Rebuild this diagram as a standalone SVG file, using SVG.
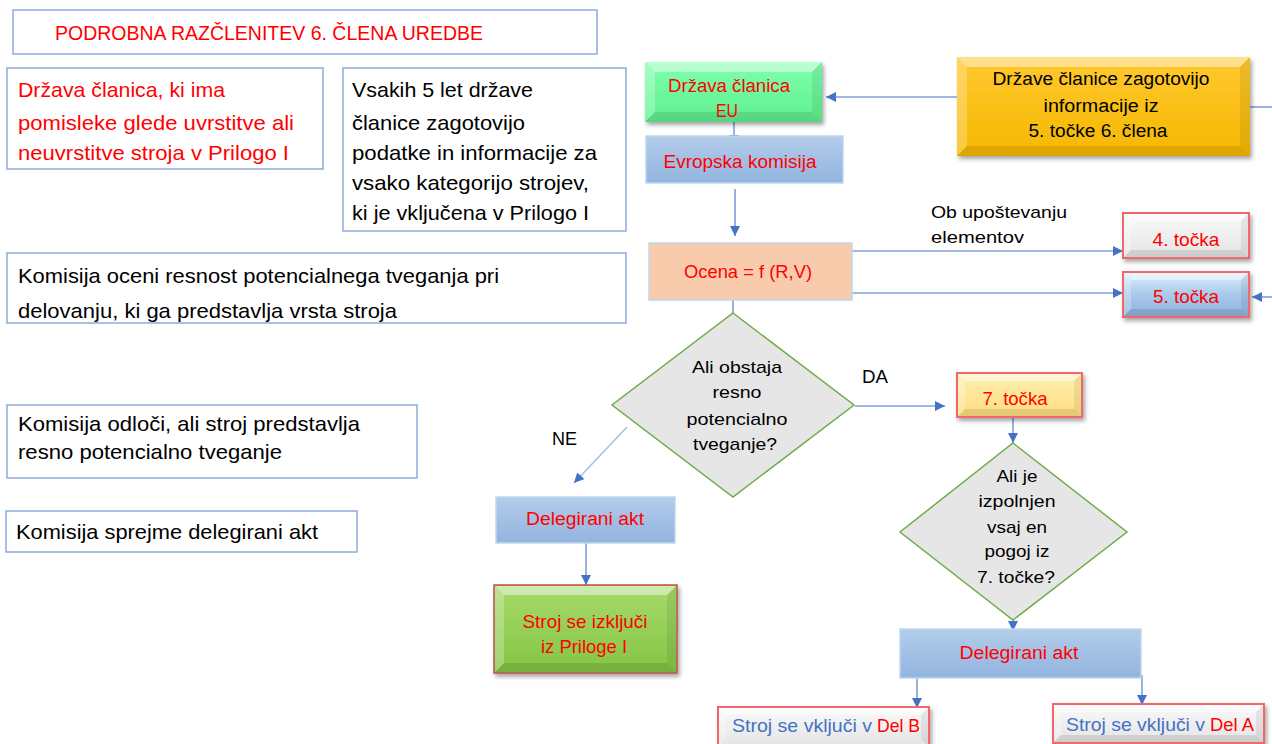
<svg xmlns="http://www.w3.org/2000/svg" width="1272" height="744" viewBox="0 0 1272 744">
<style>
text{font-family:"Liberation Sans",Arial,sans-serif;}
.side{fill:#fff;stroke:#8FAADC;stroke-width:1.5;}
.r{fill:#FF0000;}
.k{fill:#000;}
.b{fill:#4472C4;}
.t21{font-size:21px;}
.t19{font-size:19px;}
.t18{font-size:18px;}
.t17{font-size:17px;}
.bt{fill:#fff;opacity:.45;}
.bl{fill:#fff;opacity:.25;}
.bb{fill:#000;opacity:.10;}
.br{fill:#000;opacity:.07;}
.con{stroke:#4472C4;stroke-width:1.1;fill:none;}
.blueBox{fill:url(#gBlue);stroke:#BDD7EE;stroke-width:1.5;}
.dia{fill:#E7E6E6;stroke:#70AD47;stroke-width:1.5;}
.redEdge{stroke:#F0686C;stroke-width:2;}
</style>
<defs>
<linearGradient id="gBlue" x1="0" y1="0" x2="0" y2="1"><stop offset="0" stop-color="#B3CCEA"/><stop offset="1" stop-color="#92B4DF"/></linearGradient>
<linearGradient id="gGreen" x1="0" y1="0" x2="0" y2="1"><stop offset="0" stop-color="#80FFAE"/><stop offset="1" stop-color="#5EF08E"/></linearGradient>
<linearGradient id="gYel" x1="0" y1="0" x2="0" y2="1"><stop offset="0" stop-color="#FFC830"/><stop offset="1" stop-color="#F5B800"/></linearGradient>
<linearGradient id="gWhite" x1="0" y1="0" x2="0" y2="1"><stop offset="0" stop-color="#FAFAFA"/><stop offset="1" stop-color="#E4E4E4"/></linearGradient>
<linearGradient id="gSky" x1="0" y1="0" x2="0" y2="1"><stop offset="0" stop-color="#DDEEFC"/><stop offset="0.5" stop-color="#A9C9EC"/><stop offset="1" stop-color="#8DB2DD"/></linearGradient>
<linearGradient id="gLY" x1="0" y1="0" x2="0" y2="1"><stop offset="0" stop-color="#FFF0B0"/><stop offset="1" stop-color="#FFDD80"/></linearGradient>
<linearGradient id="gLG" x1="0" y1="0" x2="0" y2="1"><stop offset="0" stop-color="#A6DB6A"/><stop offset="1" stop-color="#84C444"/></linearGradient>
<filter id="sh" x="-10%" y="-20%" width="130%" height="150%"><feDropShadow dx="2" dy="3" stdDeviation="2" flood-color="#000" flood-opacity="0.35"/></filter>
<marker id="ah" viewBox="0 0 10 10" refX="10" refY="5" markerWidth="10" markerHeight="10" markerUnits="userSpaceOnUse" orient="auto"><path d="M0,0 L10,5 L0,10 z" fill="#4472C4"/></marker>
</defs>

<!-- side notes -->
<g id="title">
<rect class="side" x="13" y="10" width="584" height="44"/>
<text class="r t21" x="55" y="40" textLength="428" lengthAdjust="spacingAndGlyphs">PODROBNA RAZČLENITEV 6. ČLENA UREDBE</text>
</g>
<g id="note1">
<rect class="side" x="7" y="68" width="316" height="101"/>
<text class="r t21" x="18" y="97" textLength="207" lengthAdjust="spacingAndGlyphs">Država članica, ki ima</text>
<text class="r t21" x="18" y="130" textLength="276" lengthAdjust="spacingAndGlyphs">pomisleke glede uvrstitve ali</text>
<text class="r t21" x="18" y="160" textLength="271" lengthAdjust="spacingAndGlyphs">neuvrstitve stroja v Prilogo I</text>
</g>
<g id="note2">
<rect class="side" x="343" y="68" width="283" height="163"/>
<text class="k t21" x="352" y="97" textLength="181" lengthAdjust="spacingAndGlyphs">Vsakih 5 let države</text>
<text class="k t21" x="352" y="130" textLength="173" lengthAdjust="spacingAndGlyphs">članice zagotovijo</text>
<text class="k t21" x="352" y="160" textLength="245" lengthAdjust="spacingAndGlyphs">podatke in informacije za</text>
<text class="k t21" x="352" y="190" textLength="237" lengthAdjust="spacingAndGlyphs">vsako kategorijo strojev,</text>
<text class="k t21" x="352" y="220" textLength="237" lengthAdjust="spacingAndGlyphs">ki je vključena v Prilogo I</text>
</g>
<g id="note3">
<rect class="side" x="7" y="253" width="619" height="70"/>
<text class="k t21" x="18" y="283" textLength="481" lengthAdjust="spacingAndGlyphs">Komisija oceni resnost potencialnega tveganja pri</text>
<text class="k t21" x="18" y="318" textLength="379" lengthAdjust="spacingAndGlyphs">delovanju, ki ga predstavlja vrsta stroja</text>
</g>
<g id="note4">
<rect class="side" x="7" y="405" width="410" height="73"/>
<text class="k t21" x="18" y="431" textLength="342" lengthAdjust="spacingAndGlyphs">Komisija odloči, ali stroj predstavlja</text>
<text class="k t21" x="18" y="459" textLength="264" lengthAdjust="spacingAndGlyphs">resno potencialno tveganje</text>
</g>
<g id="note5">
<rect class="side" x="6" y="511" width="351" height="41"/>
<text class="k t21" x="16" y="539" textLength="302" lengthAdjust="spacingAndGlyphs">Komisija sprejme delegirani akt</text>
</g>

<!-- connectors -->
<g id="connectors">
<line class="con" x1="957" y1="97" x2="826" y2="97" marker-end="url(#ah)"/>
<line class="con" x1="1250" y1="107" x2="1272" y2="107"/>
<line class="con" x1="734" y1="122" x2="734" y2="145" marker-end="url(#ah)"/>
<line class="con" x1="735" y1="189" x2="735" y2="236" marker-end="url(#ah)"/>
<line class="con" x1="852" y1="251" x2="1123" y2="251" marker-end="url(#ah)"/>
<line class="con" x1="852" y1="293" x2="1123" y2="293" marker-end="url(#ah)"/>
<line class="con" x1="1272" y1="297" x2="1252" y2="297" marker-end="url(#ah)"/>
<line class="con" x1="733" y1="289" x2="733" y2="328" marker-end="url(#ah)"/>
<line class="con" x1="855" y1="406" x2="945" y2="406" marker-end="url(#ah)"/>
<line x1="627" y1="427" x2="574" y2="483" stroke="#9DC3E6" stroke-width="1.5" marker-end="url(#ah)"/>
<line class="con" x1="586" y1="538" x2="586" y2="585" marker-end="url(#ah)"/>
<line class="con" x1="1013" y1="415" x2="1013" y2="443" marker-end="url(#ah)"/>
<line class="con" x1="1013" y1="617" x2="1013" y2="631" marker-end="url(#ah)"/>
<line class="con" x1="917" y1="678" x2="917" y2="708" marker-end="url(#ah)"/>
<line class="con" x1="1142" y1="675" x2="1142" y2="705" marker-end="url(#ah)"/>
<text class="k t18" x="862" y="383" textLength="26" lengthAdjust="spacingAndGlyphs">DA</text>
<text class="k t18" x="552" y="445" textLength="25" lengthAdjust="spacingAndGlyphs">NE</text>
<text class="k t17" x="931" y="218" textLength="136" lengthAdjust="spacingAndGlyphs">Ob upoštevanju</text>
<text class="k t17" x="931" y="243" textLength="93" lengthAdjust="spacingAndGlyphs">elementov</text>
</g>

<!-- flow nodes -->
<g id="drzava-eu">
<rect x="645" y="62" width="177" height="60" fill="url(#gGreen)" filter="url(#sh)"/>
<polygon class="bt" points="645,62 822,62 812,72 655,72"/>
<polygon class="bl" points="645,62 655,72 655,112 645,122"/>
<polygon class="bb" points="645,122 655,112 812,112 822,122"/>
<polygon class="br" points="822,62 822,122 812,112 812,72"/>
<text class="r t18" x="729" y="92" text-anchor="middle" textLength="122" lengthAdjust="spacingAndGlyphs">Država članica</text>
<text class="r t18" x="727" y="117" text-anchor="middle" textLength="22" lengthAdjust="spacingAndGlyphs">EU</text>
</g>
<g id="zagotovijo">
<rect x="957" y="57" width="293" height="99" fill="url(#gYel)" filter="url(#sh)"/>
<polygon class="bt" points="957,57 1250,57 1240,67 967,67"/>
<polygon class="bl" points="957,57 967,67 967,146 957,156"/>
<polygon class="bb" points="957,156 967,146 1240,146 1250,156"/>
<polygon class="br" points="1250,57 1250,156 1240,146 1240,67"/>
<text class="k t18" x="1101" y="85" text-anchor="middle" textLength="217" lengthAdjust="spacingAndGlyphs">Države članice zagotovijo</text>
<text class="k t18" x="1101" y="112" text-anchor="middle" textLength="115" lengthAdjust="spacingAndGlyphs">informacije iz</text>
<text class="k t18" x="1098" y="137" text-anchor="middle" textLength="139" lengthAdjust="spacingAndGlyphs">5. točke 6. člena</text>
</g>
<g id="komisija">
<rect class="blueBox" x="646" y="136" width="197" height="47"/>
<text class="r t18" x="740" y="168" text-anchor="middle" textLength="153" lengthAdjust="spacingAndGlyphs">Evropska komisija</text>
</g>
<g id="ocena">
<rect x="649" y="243" width="203" height="57" fill="#F8CBAD" stroke="#BDD7EE" stroke-width="1.5"/>
<text class="r t19" x="748" y="278" text-anchor="middle" textLength="128" lengthAdjust="spacingAndGlyphs">Ocena = f (R,V)</text>
</g>
<g id="tocka4">
<rect class="redEdge" x="1123" y="213" width="126" height="45" fill="url(#gWhite)" filter="url(#sh)"/>
<polygon class="bt" points="1124,214 1248,214 1241,221 1131,221"/>
<polygon class="bl" points="1124,214 1131,221 1131,250 1124,257"/>
<polygon class="bb" points="1124,257 1131,250 1241,250 1248,257"/>
<polygon class="br" points="1248,214 1248,257 1241,250 1241,221"/>
<text class="r t19" x="1186" y="246" text-anchor="middle" textLength="67" lengthAdjust="spacingAndGlyphs">4. točka</text>
</g>
<g id="tocka5">
<rect class="redEdge" x="1123" y="272" width="126" height="45" fill="url(#gSky)" filter="url(#sh)"/>
<polygon class="bt" points="1124,273 1248,273 1241,280 1131,280"/>
<polygon class="bl" points="1124,273 1131,280 1131,309 1124,316"/>
<polygon class="bb" points="1124,316 1131,309 1241,309 1248,316"/>
<polygon class="br" points="1248,273 1248,316 1241,309 1241,280"/>
<text class="r t19" x="1186" y="303" text-anchor="middle" textLength="66" lengthAdjust="spacingAndGlyphs">5. točka</text>
</g>
<g id="odlocitev1">
<polygon class="dia" points="733,313 854,405 733,497 612,405"/>
<text class="k t17" x="737" y="373" text-anchor="middle" textLength="90" lengthAdjust="spacingAndGlyphs">Ali obstaja</text>
<text class="k t17" x="737" y="398" text-anchor="middle" textLength="49" lengthAdjust="spacingAndGlyphs">resno</text>
<text class="k t17" x="737" y="425" text-anchor="middle" textLength="101" lengthAdjust="spacingAndGlyphs">potencialno</text>
<text class="k t17" x="735" y="450" text-anchor="middle" textLength="84" lengthAdjust="spacingAndGlyphs">tveganje?</text>
</g>
<g id="tocka7">
<rect class="redEdge" x="957" y="373" width="125" height="44" fill="url(#gLY)" filter="url(#sh)"/>
<polygon class="bt" points="958,374 1081,374 1074,381 965,381"/>
<polygon class="bl" points="958,374 965,381 965,409 958,416"/>
<polygon class="bb" points="958,416 965,409 1074,409 1081,416"/>
<polygon class="br" points="1081,374 1081,416 1074,409 1074,381"/>
<text class="r t19" x="1015" y="405" text-anchor="middle" textLength="65" lengthAdjust="spacingAndGlyphs">7. točka</text>
</g>
<g id="delegirani1">
<rect class="blueBox" x="496" y="497" width="179" height="46"/>
<text class="r t18" x="585" y="525" text-anchor="middle" textLength="118" lengthAdjust="spacingAndGlyphs">Delegirani akt</text>
</g>
<g id="izkljuci">
<rect x="494" y="585" width="183" height="88" fill="url(#gLG)" stroke="#C0504D" stroke-width="1.5" filter="url(#sh)"/>
<polygon class="bt" points="495,586 676,586 667,595 504,595"/>
<polygon class="bl" points="495,586 504,595 504,663 495,672"/>
<polygon class="bb" points="495,672 504,663 667,663 676,672"/>
<polygon class="br" points="676,586 676,672 667,663 667,595"/>
<text class="r t19" x="585" y="628" text-anchor="middle" textLength="125" lengthAdjust="spacingAndGlyphs">Stroj se izključi</text>
<text class="r t19" x="584" y="653" text-anchor="middle" textLength="86" lengthAdjust="spacingAndGlyphs">iz Priloge I</text>
</g>
<g id="odlocitev2">
<polygon class="dia" points="1013,443 1127,532 1013,620 900,532"/>
<text class="k t17" x="1017" y="482" text-anchor="middle" textLength="41" lengthAdjust="spacingAndGlyphs">Ali je</text>
<text class="k t17" x="1017" y="507" text-anchor="middle" textLength="77" lengthAdjust="spacingAndGlyphs">izpolnjen</text>
<text class="k t17" x="1017" y="533" text-anchor="middle" textLength="60" lengthAdjust="spacingAndGlyphs">vsaj en</text>
<text class="k t17" x="1017" y="557" text-anchor="middle" textLength="65" lengthAdjust="spacingAndGlyphs">pogoj iz</text>
<text class="k t17" x="1016" y="583" text-anchor="middle" textLength="78" lengthAdjust="spacingAndGlyphs">7. točke?</text>
</g>
<g id="delegirani2">
<rect class="blueBox" x="900" y="629" width="241" height="49"/>
<text class="r t18" x="1019" y="659" text-anchor="middle" textLength="119" lengthAdjust="spacingAndGlyphs">Delegirani akt</text>
</g>
<g id="delB">
<rect class="redEdge" x="718" y="707" width="211" height="40" fill="url(#gWhite)" filter="url(#sh)"/>
<polygon class="bt" points="719,708 928,708 921,715 726,715"/>
<polygon class="bl" points="719,708 726,715 726,739 719,746"/>
<polygon class="br" points="928,708 928,746 921,739 921,715"/>
<text class="b t19" x="732" y="732" textLength="140" lengthAdjust="spacingAndGlyphs">Stroj se vključi v</text>
<text class="r t19" x="877" y="732" textLength="43" lengthAdjust="spacingAndGlyphs">Del B</text>
</g>
<g id="delA">
<rect class="redEdge" x="1053" y="704" width="211" height="39" fill="url(#gWhite)" filter="url(#sh)"/>
<polygon class="bt" points="1054,705 1263,705 1256,712 1061,712"/>
<polygon class="bl" points="1054,705 1061,712 1061,735 1054,742"/>
<polygon class="bb" points="1054,742 1061,735 1256,735 1263,742"/>
<polygon class="br" points="1263,705 1263,742 1256,735 1256,712"/>
<text class="b t19" x="1066" y="731" textLength="139" lengthAdjust="spacingAndGlyphs">Stroj se vključi v</text>
<text class="r t19" x="1210" y="731" textLength="44" lengthAdjust="spacingAndGlyphs">Del A</text>
</g>
</svg>
